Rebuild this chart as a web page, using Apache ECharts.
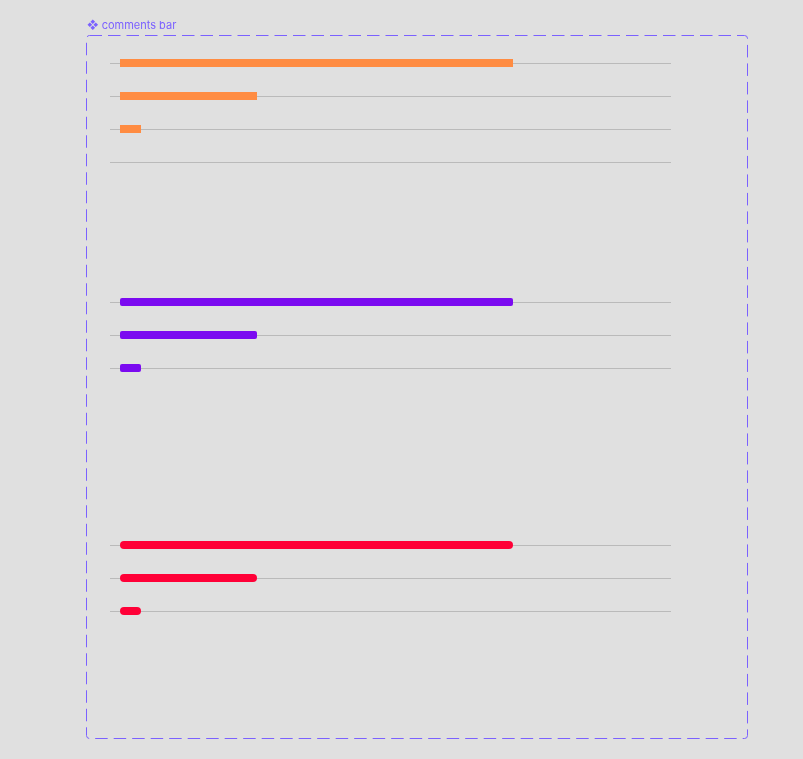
<!DOCTYPE html>
<html>
<head>
    <meta charset="utf-8" />
    <title>comments bar</title>
    <style>
        html, body { margin: 0; padding: 0; background: #e0e0e0; }
        #main { width: 803px; height: 759px; }
    </style>
    <script src="https://cdn.jsdelivr.net/npm/echarts@6/dist/echarts.min.js"></script>
</head>
<body>
    <div id="main"></div>
    <script type="text/javascript">
        // rows of each block (block 1 has an extra empty row)
        let rowsTop = ['row 1', 'row 2', 'row 3', 'row 4'];
        let rowsMid = ['row 1', 'row 2', 'row 3'];
        let rowsBottom = ['row 1', 'row 2', 'row 3'];

        // bar values, same in each block
        let orangeValues = [393, 137, 21, null];
        let purpleValues = [393, 137, 21];
        let redValues = [393, 137, 21];

        // x scale (bars start at 0, the rule line starts a bit before)
        let xMin = -10;
        let xMax = 551;

        var myChart = echarts.init(document.getElementById('main'));

        const lineColor = '#bababa';

        function makeX(i) {
            return { gridIndex: i, type: 'value', min: xMin, max: xMax, show: false };
        }
        function makeY(i, data) {
            return {
                gridIndex: i,
                type: 'category',
                data: data,
                inverse: true,
                boundaryGap: false,
                axisLine: { show: false },
                axisTick: { show: false },
                axisLabel: { show: false },
                splitLine: { show: true, lineStyle: { color: lineColor, width: 1.2 } }
            };
        }

        var option = {
            backgroundColor: '#e0e0e0',
            animation: false,
            title: {
                text: '❖ comments bar',
                left: 82,
                top: 15,
                textStyle: { color: '#7b61ff', fontSize: 11, fontWeight: 'normal', fontFamily: 'Inter' }
            },
            graphic: [{
                type: 'rect',
                shape: { x: 86.5, y: 35.5, width: 661, height: 703, r: 3 },
                style: { fill: 'none', stroke: '#7b61ff', lineWidth: 1, lineDash: [12.5, 6] },
                silent: true
            }],
            grid: [
                { left: 110, right: 132, top: 63, height: 99 },
                { left: 110, right: 132, top: 302, height: 66 },
                { left: 110, right: 132, top: 545, height: 66 }
            ],
            xAxis: [makeX(0), makeX(1), makeX(2)],
            yAxis: [makeY(0, rowsTop), makeY(1, rowsMid), makeY(2, rowsBottom)],
            series: [
                {
                    type: 'bar', xAxisIndex: 0, yAxisIndex: 0, data: orangeValues,
                    barWidth: 8, itemStyle: { color: '#ff8c42', borderRadius: 0 }
                },
                {
                    type: 'bar', xAxisIndex: 1, yAxisIndex: 1, data: purpleValues,
                    barWidth: 8, itemStyle: { color: '#7b0af0', borderRadius: 2 }
                },
                {
                    type: 'bar', xAxisIndex: 2, yAxisIndex: 2, data: redValues,
                    barWidth: 8, itemStyle: { color: '#ff0037', borderRadius: 4 }
                }
            ]
        };
        myChart.setOption(option);
    </script>
</body>
</html>
